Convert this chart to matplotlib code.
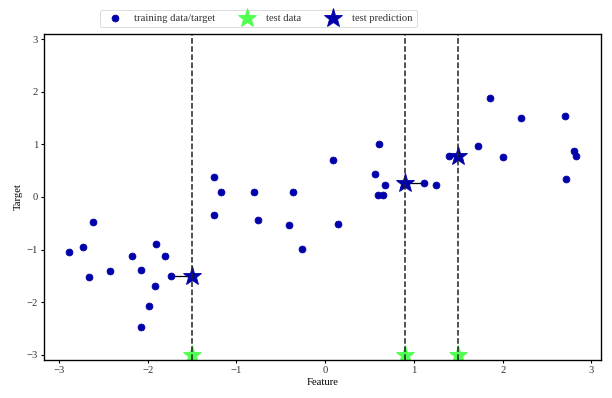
import numpy as np
import matplotlib
matplotlib.use("Agg")
import matplotlib.pyplot as plt

# training points
train_x = [-2.884, -2.727, -2.659, -2.614, -2.423, -2.175, -2.074, -2.074,
           -1.987, -1.916, -1.905, -1.803, -1.736, -1.252, -1.252, -1.173,
           -0.801, -0.756, -0.407, -0.362, -0.261, 0.088, 0.144, 0.561,
           0.594, 0.606, 0.651, 0.673, 1.112, 1.247, 1.394, 1.720,
           1.855, 2.002, 2.204, 2.700, 2.711, 2.800, 2.823]
train_y = [-1.05, -0.955, -1.525, -0.48, -1.41, -1.12, -1.39, -2.475,
           -2.076, -1.684, -0.90, -1.126, -1.506, 0.374, -0.348, 0.089,
           0.089, -0.443, -0.538, 0.089, -0.993, 0.697, -0.519, 0.431,
           0.032, 1.00, 0.032, 0.222, 0.26, 0.222, 0.775, 0.963,
           1.874, 0.754, 1.494, 1.532, 0.336, 0.873, 0.773]

test_x = [-1.5, 0.9, 1.5]

legend_labels = ["training data/target", "test data", "test prediction"]

blue = "#0000aa"
green = "#50ff50"

plt.rcParams["font.family"] = ["Liberation Serif", "DejaVu Serif"]
plt.rcParams["font.size"] = 12.5
plt.rcParams["axes.linewidth"] = 1.6
plt.rcParams["xtick.major.width"] = 1.3
plt.rcParams["ytick.major.width"] = 1.3
plt.rcParams["text.color"] = "#333333"
plt.rcParams["xtick.labelcolor"] = "#333333"
plt.rcParams["ytick.labelcolor"] = "#333333"

X = np.array(train_x)
y = np.array(train_y)
X_test = np.array(test_x)

# one nearest neighbour for each test point
nearest = [int(np.argmin(np.abs(X - t))) for t in X_test]
y_pred = y[nearest]

fig = plt.figure(figsize=(612 / 61.2, 398 / 61.2), dpi=61.2)
ax = fig.add_axes([0.0719, 0.0955, 0.9101, 0.8191])

ax.plot(X, y, "o", c=blue, markersize=8)
ax.plot(X_test, -3 * np.ones(len(X_test)), "*", c=green, markersize=23)
ax.plot(X_test, y_pred, "*", c=blue, markersize=23)

for t, p, n in zip(X_test, y_pred, nearest):
    ax.plot([t, X[n]], [p, y[n]], "-", c="k", lw=1.5, zorder=1)

ax.vlines(X_test, -3.1, 3.1, linestyle="--", color="#222222", lw=1.8)
ax.set_ylim(-3.1, 3.1)

ax.legend(legend_labels, ncol=3, loc=(0.1, 1.02), fontsize=12.5)
ax.set_xlabel("Feature")
ax.set_ylabel("Target")

fig.savefig("out.png", dpi=61.2)
